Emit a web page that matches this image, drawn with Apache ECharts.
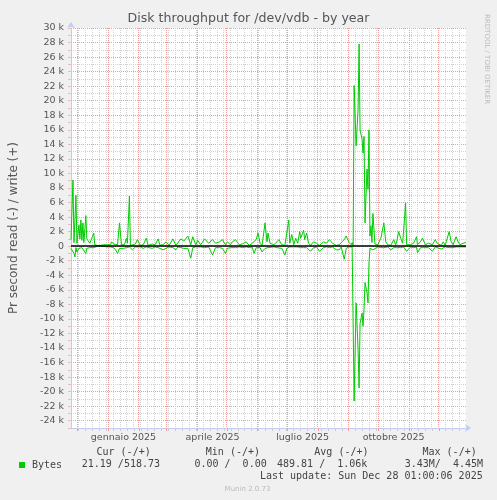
<!DOCTYPE html>
<html>
<head>
<meta charset="utf-8">
<script src="https://cdn.jsdelivr.net/npm/echarts@6/dist/echarts.min.js"></script>
<style>
html,body{margin:0;padding:0;background:#f0f0f0;}
#chart{width:497px;height:500px;}
</style>
</head>
<body>
<div id="chart"></div>
<script>
// ---- data (days since 2024-11-24 12:00, values in thousands of bytes/s) ----
var days = [0,2,3,4,5,6,8,9,10,11,12,13,15,16,17,18,19,21,23,24,
  27,30,33,36,38,40,41,43,45,47,49,51,53,54,56,57,59,60,62,
  65,67,70,73,76,78,82,85,88,90,93,96,99,101,103,106,108,111,114,118,121,
  123,126,128,131,135,139,143,146,150,153,156,158,161,163,166,170,173,177,180,183,185,187,189,191,193,196,198,199,201,205,208,210,213,216,218,
  220,221,223,225,227,229,231,232,235,236,238,240,242,245,248,251,255,258,261,264,268,271,273,276,278,280,281,283,284,285,
  286,288,290,291,292,294,295,296,297,299,300,301,302,303,304,305,
  307,310,312,313,316,318,320,323,326,328,329,331,333,335,336,338,339,341,343,346,349,350,353,355,356,358,361,365,368,370,374,376,378,382,384,386,389,391,393,396,399];
var writeK = [0.9,9.1,0.5,0.3,7.0,0.4,2.9,1.0,3.6,0.8,3.2,0.5,4.2,1.0,0.8,1.2,0.4,1.1,1.8,0.2,
  0.1,0.1,0.2,0.2,0.3,0.2,0.6,0.3,0.1,0.2,3.2,0.2,0.1,0.2,1.1,0.4,6.9,0.1,0.2,
  0.3,0.9,0.1,0.2,1.1,0.1,0.3,0.2,1.0,0.1,0.2,0.6,0.1,0.2,1.0,0.1,0.2,1.0,0.7,1.4,0.2,
  1.3,0.2,0.8,0.2,1.0,0.4,0.9,0.4,0.6,0.9,0.2,0.6,0.2,0.6,0.9,0.2,0.3,0.6,0.1,0.4,0.2,0.9,1.8,0.4,0.1,3.2,0.6,1.8,0.4,0.2,0.6,0.9,0.2,0.1,0.2,
  3.6,0.4,1.6,0.2,1.1,0.4,2.0,1.1,2.2,0.9,1.8,0.4,0.1,0.6,0.4,0.1,0.6,0.4,0.9,0.4,0.1,0.2,0.3,0.9,1.4,1.6,0.5,0.2,0.5,0.1,
  22.1,13.8,18.8,27.8,16.0,14.7,12.8,15.1,3.2,10.6,7.8,16.0,1.4,2.8,0.5,4.5,
  0.3,0.2,0.3,1.1,3.2,0.6,0.2,0.1,0.9,0.2,0.6,2.0,1.1,0.4,0.6,5.9,0.2,0.2,0.2,0.4,1.3,0.2,0.6,1.1,1.1,0.2,0.4,0.2,0.9,0.4,0.1,0.6,0.1,2.0,0.6,0.2,1.3,0.6,0.2,0.4,0.5];
var readK = [0.3,0.5,1.0,1.5,0.2,0.8,0.3,0.2,0.4,0.2,0.3,0.3,1.0,0.3,0.2,0.2,0.2,0.1,0.2,0.1,
  0,0,0,0.1,0.3,0.1,0.2,0.2,0.5,1.0,0.3,0.3,0.3,0.5,0.2,0.2,0.1,0.1,0.5,
  0.1,0.1,0.1,0.3,0.1,0.1,0.3,0.1,0.2,0.1,0.5,0.3,0.1,0.3,0.2,0.5,0.1,0.2,0.3,0.3,1.65,
  0.2,0.1,0.3,0.1,0.2,0.1,1.2,0.2,0.2,0.3,1.0,0.3,0.2,0.1,0.2,0.1,0.2,0.1,0.2,0.1,1.0,0.2,0.3,0.2,0.8,0.3,0.1,0.2,0.2,0.1,0.2,0.2,0.3,1.2,0.3,
  0.2,0.1,0.2,0.1,0.2,0.1,0.3,0.2,0.2,0.1,0.2,0.1,0.7,0.2,0.1,0.7,0.2,0.1,0.2,0.1,0.5,0.5,0.1,1.8,0.3,0.2,0.1,0.2,0.1,0.3,
  21.3,7.8,14.2,19.5,10.6,9.2,11.0,8.7,5.0,6.4,7.8,2.3,0.3,0.2,0.2,0.5,
  0.3,0.1,0.1,0.2,0.2,0.2,0.1,0.5,0.2,0.1,0.2,0.1,0.2,0.2,0.1,0.3,0.7,0.9,0.1,0.2,0.1,0.9,0.2,0.1,0.2,0.1,0.2,0.7,0.1,0.2,0.4,0.2,0.1,0.2,0.1,0.2,0.1,0.2,0.1,0.1,0.1];

var titleText = 'Disk throughput for /dev/vdb - by year';
var yName = 'Pr second read (-) / write (+)';
var monthNames = ['gennaio 2025','aprile 2025','luglio 2025','ottobre 2025'];
var labelMonths = [[2025,0],[2025,3],[2025,6],[2025,9]];
var statHeaders = ['Cur (-/+)','Min (-/+)','Avg (-/+)','Max (-/+)'];
var statValues = ['21.19 /518.73','0.00 /  0.00','489.81 /  1.06k','3.43M/  4.45M'];
var legendName = 'Bytes';
var lastUpdate = 'Last update: Sun Dec 28 01:00:06 2025';
var footer = 'Munin 2.0.73';
var sideText = 'RRDTOOL / TOBI OETIKER';

// ---- time helpers ----
var DAY = 864e5;
var axisStart = Date.UTC(2024,10,24,12);
function dayOf(yy,mm,dd,hh){ return (Date.UTC(yy,mm,dd,hh||0) - axisStart)/DAY; }
var monthDays = [];
[[2024,11],[2025,0],[2025,1],[2025,2],[2025,3],[2025,4],[2025,5],[2025,6],[2025,7],[2025,8],[2025,9],[2025,10],[2025,11]]
  .forEach(function(p){ monthDays.push(dayOf(p[0],p[1],1)); });
var weekDays = [];
for (var w=dayOf(2024,11,2); w<399; w+=7) weekDays.push(w);   // Mondays
var labelDays = labelMonths.map(function(p){ return dayOf(p[0],p[1],16,12); });

var green = '#00cc00';
var writeData = days.map(function(d,i){ return [d, writeK[i]*1000]; });
var readData = days.map(function(d,i){ return [d, -readK[i]*1000]; });
var Y_MIN = -25000, Y_MAX = 30000;

var chart = echarts.init(document.getElementById('chart'), null, {renderer:'canvas'});
var axisBlue = '#c3caf5';
var gridGray = '#d2d2d2';
var gridRed = '#f29c9c';
var textCol = '#555';
var sans = 'DejaVu Sans';
var mono = 'DejaVu Sans Mono';

var weekData = weekDays.map(function(d){ return [d]; });
var monthData = monthDays.map(function(d){ return [d]; });

function vLineRenderer(color, dash){
  return function(params, api){
    var d = api.value(0);
    var p1 = api.coord([d, Y_MAX]), p2 = api.coord([d, Y_MIN]);
    var x = Math.floor(p1[0]) + 0.5;
    return {type:'line', silent:true,
      shape:{x1:x, y1:p1[1], x2:x, y2:p2[1]},
      style:{stroke:color, lineWidth:1, lineDash:dash, fill:null}};
  };
}

var graphics = [];
var headerRight = [150.7, 260, 368.5, 476.7];
var valueRight = [160, 266.7, 367.3, 483];
statHeaders.forEach(function(t,i){
  graphics.push({type:'text', x:headerRight[i], y:452.7, silent:true,
    style:{text:t, font:'10px '+mono, fill:'#444', textAlign:'right', textVerticalAlign:'middle'}});
});
statValues.forEach(function(t,i){
  graphics.push({type:'text', x:valueRight[i], y:464.3, silent:true,
    style:{text:t, font:'10px '+mono, fill:'#444', textAlign:'right', textVerticalAlign:'middle'}});
});
graphics.push({type:'text', x:482.7, y:476.7, silent:true,
  style:{text:lastUpdate, font:'10px '+mono, fill:'#444', textAlign:'right', textVerticalAlign:'middle'}});
graphics.push({type:'text', x:247.5, y:489, silent:true,
  style:{text:footer, font:'7px '+sans, fill:'#bbbbbb', textAlign:'center', textVerticalAlign:'middle'}});
graphics.push({type:'text', x:487, y:14, rotation:-Math.PI/2, silent:true,
  style:{text:sideText, font:'7px '+sans, fill:'#bbbbbb', textAlign:'left', textVerticalAlign:'middle'}});

chart.setOption({
  animation:false,
  backgroundColor:'#f0f0f0',
  title:{text:titleText, left:'center', top:12, padding:0,
    textStyle:{fontFamily:sans, fontSize:12.6, fontWeight:'normal', color:textCol}},
  legend:{data:[legendName], left:14, top:455, icon:'rect', itemWidth:6, itemHeight:6, itemGap:0,
    textStyle:{fontFamily:mono, fontSize:10, color:'#444', padding:[0,0,0,2]}},
  grid:{left:67, right:31, top:28, bottom:72, show:true, backgroundColor:'#ffffff', borderWidth:0},
  xAxis:[
    {type:'value', min:0, max:399, position:'bottom',
      axisLine:{show:true, onZero:false, symbol:['none','arrow'], symbolSize:[6,6], symbolOffset:[0,5],
        lineStyle:{color:axisBlue, width:1}},
      axisTick:{show:true, customValues:weekDays, length:3, lineStyle:{color:'#cccccc'}},
      splitLine:{show:false},
      axisLabel:{show:true, customValues:labelDays, margin:5,
        fontFamily:sans, fontSize:9.5, color:textCol,
        formatter:function(v){ for (var i=0;i<labelDays.length;i++){ if (Math.abs(labelDays[i]-v)<0.01) return monthNames[i]; } return ''; }}
    },
    {type:'value', min:0, max:399, position:'bottom',
      axisLine:{show:false, onZero:false},
      axisTick:{show:true, customValues:monthDays, length:3, lineStyle:{color:gridRed}},
      splitLine:{show:false},
      axisLabel:{show:false}
    }
  ],
  yAxis:{type:'value', min:Y_MIN, max:Y_MAX, interval:1000,
    name:yName, nameLocation:'middle', nameGap:51,
    nameTextStyle:{fontFamily:sans, fontSize:12, color:textCol},
    axisLine:{show:true, onZero:false, symbol:['none','arrow'], symbolSize:[6,6], symbolOffset:[0,6],
      lineStyle:{color:axisBlue, width:1}},
    axisTick:{show:true, length:3, lineStyle:{color:'#e6bcbc'}},
    splitLine:{show:true, lineStyle:{color:[gridGray, gridRed], width:1, type:[1,1]}},
    axisLabel:{margin:7, fontFamily:sans, fontSize:9.5, color:textCol,
      formatter:function(v){ var k=Math.round(v/1000); if (k%2!==0) return ''; return k===0?'0':(k+' k'); }}
  },
  series:[
    {name:'weeks', type:'custom', xAxisIndex:0, data:weekData, z:1, silent:true, clip:false,
      encode:{x:0}, renderItem:vLineRenderer(gridGray,[1,1])},
    {name:'months', type:'custom', xAxisIndex:0, data:monthData, z:2, silent:true, clip:false,
      encode:{x:0}, renderItem:vLineRenderer(gridRed,[1,1])},
    {name:legendName, type:'line', xAxisIndex:0, data:writeData, showSymbol:false, symbol:'none',
      lineStyle:{color:green, width:1}, itemStyle:{color:green}, z:3},
    {name:legendName, type:'line', xAxisIndex:0, data:readData, showSymbol:false, symbol:'none',
      lineStyle:{color:green, width:1}, itemStyle:{color:green}, z:3,
      markLine:{silent:true, symbol:'none', label:{show:false}, z:6,
        lineStyle:{color:'#000000', width:1.6, type:'solid'},
        data:[{yAxis:0}]}}
  ],
  graphic:graphics
});
</script>
</body>
</html>
